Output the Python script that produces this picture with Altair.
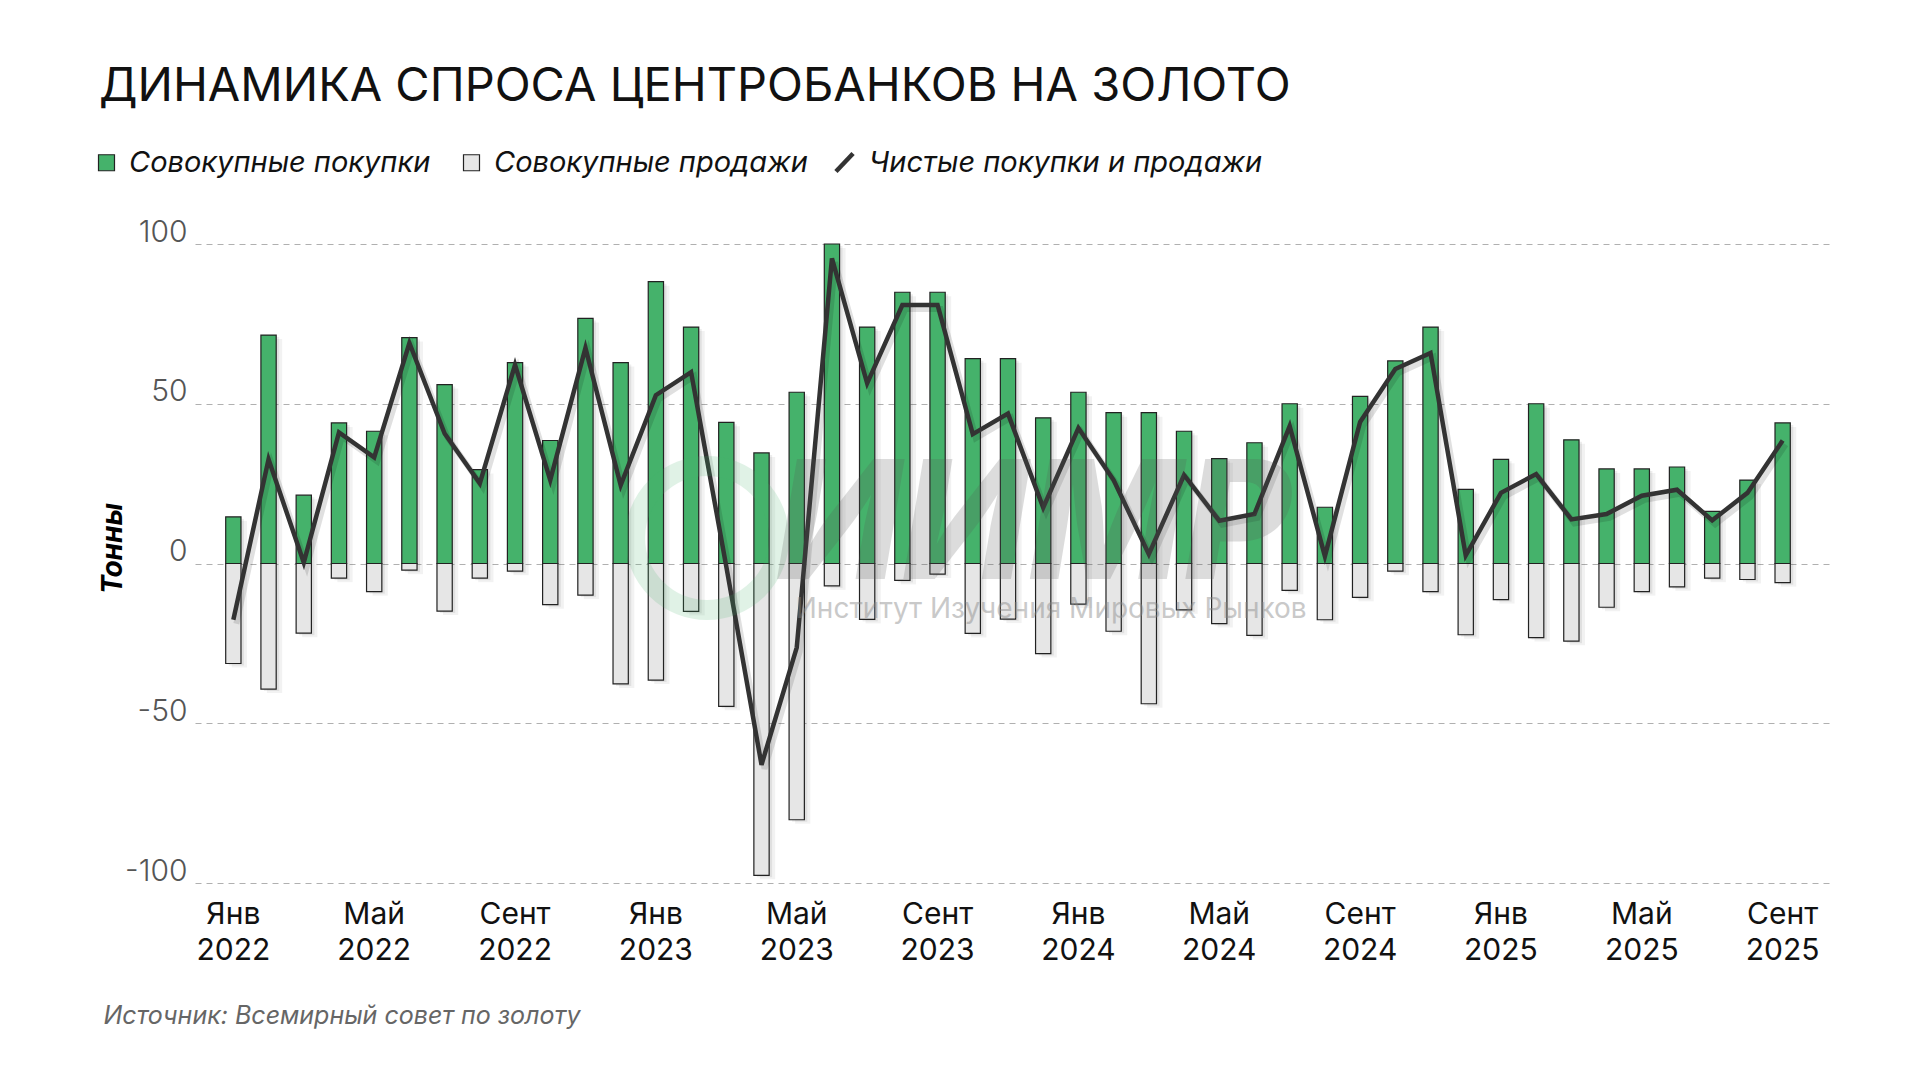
import altair as alt
import pandas as pd

FONT = "Inter"

MONTH_ABBR = ["Янв", "Фев", "Мар", "Апр", "Май", "Июн", "Июл", "Авг", "Сент", "Окт", "Ноя", "Дек"]
YEARS = [2022, 2023, 2024, 2025]
months = [f"{m} {y}" for y in YEARS for m in MONTH_ABBR][:45]

# Совокупные покупки (тонны)
buys = [14.6, 71.5, 21.4, 44.0, 41.4, 70.7, 56.0, 29.4, 62.9, 38.5, 76.7, 62.9,
        88.2, 74.0, 44.2, 34.6, 53.6, 100.0, 74.0, 84.9, 84.9, 64.1, 64.1, 45.6,
        53.6, 47.2, 47.2, 41.4, 32.8, 37.8, 50.0, 17.6, 52.3, 63.4, 74.0, 23.2,
        32.6, 50.0, 38.7, 29.6, 29.6, 30.2, 16.3, 26.1, 44.0]
# Совокупные продажи (тонны)
sells = [-31.3, -39.3, -21.8, -4.6, -8.8, -2.1, -14.9, -4.6, -2.4, -12.9, -9.9, -37.7,
         -36.5, -15.0, -44.7, -97.6, -80.2, -7.0, -17.5, -5.3, -3.3, -21.9, -17.4, -28.2,
         -12.7, -21.2, -43.9, -14.5, -18.8, -22.5, -8.4, -17.6, -10.6, -2.4, -8.8, -22.3,
         -11.3, -23.2, -24.3, -13.7, -8.8, -7.3, -4.6, -5.0, -6.0]
# Чистые покупки и продажи (тонны)
net = [-17.6, 32.6, 0.3, 41.0, 33.2, 69.0, 40.7, 25.1, 62.2, 26.1, 67.5, 24.5,
       52.7, 59.9, -1.0, -63.0, -26.3, 95.5, 56.4, 80.9, 80.9, 40.5, 46.9, 17.5,
       42.4, 26.1, 2.9, 27.7, 13.4, 15.5, 43.0, 2.3, 44.3, 60.9, 65.9, 2.5,
       22.1, 28.0, 13.8, 15.5, 21.2, 23.1, 13.5, 22.1, 38.5]

BUY = "Совокупные покупки"
SELL = "Совокупные продажи"
NET = "Чистые покупки и продажи"
TITLE = "ДИНАМИКА СПРОСА ЦЕНТРОБАНКОВ НА ЗОЛОТО"
SOURCE = "Источник: Всемирный совет по золоту"
Y_TITLE = "Тонны"
WM_BIG = "ИИМР"
WM_SMALL = "Институт Изучения Мировых Рынков"

GREEN = "#45B26B"
LIGHT = "#E6E6E6"
DARK = "#333333"

bars_df = pd.DataFrame({
    "month": months + months,
    "series": [BUY] * len(months) + [SELL] * len(months),
    "value": buys + sells,
})
line_df = pd.DataFrame({"month": months, "series": [NET] * len(months), "value": net})

x_scale = alt.Scale(domain=months, paddingInner=0.566, paddingOuter=1.0, align=0.436)
y_scale = alt.Scale(domain=[-100, 100], nice=False, zero=False)

x_axis = alt.Axis(
    labelExpr="indexof(['Янв','Май','Сент'], split(datum.label, ' ')[0]) >= 0 ? split(datum.label, ' ') : ''",
    labelAngle=0, ticks=False, domain=False, grid=False, labelOverlap=False,
    labelFont=FONT, labelFontSize=30, labelColor="#111111", labelPadding=16,
    labelLineHeight=36, labelBaseline="top",
    title=SOURCE, titleX=-92, titleY=132, titleAlign="left", titleBaseline="middle",
    titleFont=FONT, titleFontSize=25, titleFontStyle="italic", titleFontWeight=400,
    titleColor="#666666",
)
y_axis = alt.Axis(
    values=[-100, -50, 0, 50, 100], labelExpr="replace(format(datum.value, 'd'), '−', '-')",
    ticks=False, domain=False, grid=True, gridColor="#b0b0b0", gridDash=[6, 5], gridWidth=1,
    labelFont=FONT, labelFontSize=30, labelFontWeight=300, labelColor="#555555",
    labelPadding=8, labelBaseline="alphabetic", labelOffset=-3,
    title=Y_TITLE, titleAngle=270, titleX=-82, titleY=304, titleAlign="center",
    titleBaseline="middle", titleFont=FONT, titleFontSize=28, titleFontStyle="italic",
    titleFontWeight="bold", titleColor="#000000",
)

X = alt.X("month:O", scale=x_scale, axis=x_axis)
Y = alt.Y("value:Q", scale=y_scale, axis=y_axis, stack=None)

base_bars = alt.Chart(bars_df).encode(x=X, y=Y)

shadow1 = base_bars.mark_bar(fill="#000000", opacity=0.05, xOffset=6, yOffset=4, y2Offset=4)
shadow2 = base_bars.mark_bar(fill="#000000", opacity=0.07, xOffset=3, yOffset=2, y2Offset=2)

bars = base_bars.mark_bar(stroke="#222222", strokeWidth=1.2).encode(
    fill=alt.Fill(
        "series:N",
        scale=alt.Scale(domain=[BUY, SELL], range=[GREEN, LIGHT]),
        legend=alt.Legend(
            title=None, orient="none", legendX=-103, legendY=-96, direction="horizontal",
            columnPadding=26, symbolType="square", symbolSize=256,
            symbolStrokeColor="#222222", symbolStrokeWidth=1.2, symbolOpacity=1,
            labelFont=FONT, labelFontSize=29, labelFontStyle="italic",
            labelColor="#111111", labelOffset=8, labelLimit=600,
        ),
    )
)

base_line = alt.Chart(line_df).encode(x=X, y=Y)
line_shadow = base_line.mark_line(stroke="#000000", strokeWidth=6, opacity=0.12, xOffset=3, yOffset=4)
line = base_line.mark_line(strokeWidth=4.5).encode(
    stroke=alt.Stroke(
        "series:N",
        scale=alt.Scale(domain=[NET], range=[DARK]),
        legend=alt.Legend(
            title=None, orient="none", legendX=635, legendY=-96, direction="horizontal",
            symbolType="M-0.95,1L0.95,-1", symbolSize=324, symbolStrokeWidth=4.5,
            labelFont=FONT, labelFontSize=29, labelFontStyle="italic",
            labelColor="#111111", labelOffset=10, labelLimit=600,
        ),
    )
)

ring = alt.Chart(pd.DataFrame({"text": [WM_BIG]})).mark_point(
    shape="circle", filled=False, stroke=GREEN, strokeWidth=20, opacity=0.16,
    size=20736, xOffset=16,
).encode(
    x=alt.XDatum("Фев 2023", type="ordinal", title=SOURCE),
    y=alt.YDatum(8, title=Y_TITLE),
)

wm_big = alt.Chart(pd.DataFrame({"text": [WM_BIG]})).mark_text(
    font=FONT, fontSize=165, fontWeight=800, fontStyle="italic", fill="#555555",
    opacity=0.2, align="center", baseline="alphabetic", xOffset=-10,
).encode(
    x=alt.XDatum("Дек 2023", type="ordinal", title=SOURCE),
    y=alt.YDatum(-4.7, title=Y_TITLE),
    text="text:N",
)

wm_small = alt.Chart(pd.DataFrame({"text": [WM_SMALL]})).mark_text(
    font=FONT, fontSize=28, fill="#888888", opacity=0.45, align="center",
    baseline="middle", xOffset=8,
).encode(
    x=alt.XDatum("Дек 2023", type="ordinal", title=SOURCE),
    y=alt.YDatum(-14.5, title=Y_TITLE),
    text="text:N",
)

chart = alt.layer(
    shadow1, shadow2, bars, line_shadow, line, ring, wm_big, wm_small
).properties(
    width=1635,
    height=639,
    autosize=alt.AutoSizeParams(type="none"),
    padding={"left": 187, "top": 236, "right": 83, "bottom": 190},
    background="#ffffff",
    title=alt.Title(
        TITLE, anchor="start", frame="group", dx=-96, offset=0,
        font=FONT, fontSize=47, fontWeight=400, color="#111111", baseline="alphabetic",
    ),
).configure_view(strokeWidth=0)

chart.save("out.html", embed_options={"renderer": "svg", "actions": False})
